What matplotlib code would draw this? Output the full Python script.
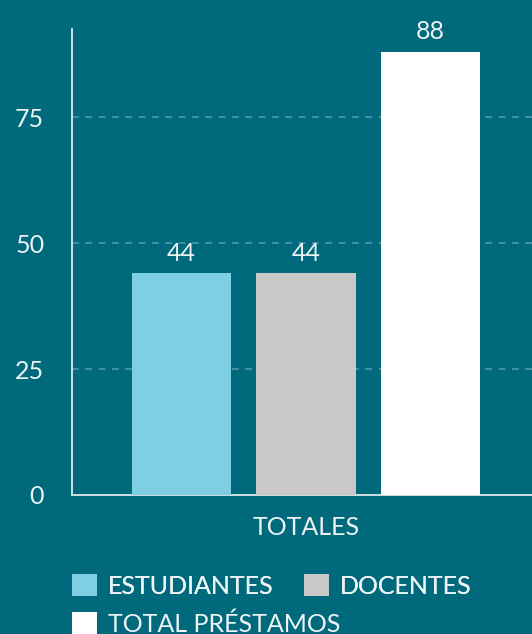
import numpy as np
import matplotlib
matplotlib.use("Agg")
import matplotlib.pyplot as plt

# data
categories = ["TOTALES"]
series = ["ESTUDIANTES", "DOCENTES", "TOTAL PRÉSTAMOS"]
values = [44, 44, 88]
colors = ["#7ecfe1", "#c8c8c8", "#ffffff"]
yticks = [0, 25, 50, 75]

bg = "#006a7c"
txt = "#eef4f5"

plt.rcParams["font.family"] = ["Lato", "DejaVu Sans"]

fig = plt.figure(figsize=(5.32, 6.34), dpi=100, facecolor=bg)
ax = fig.add_axes([72 / 532, 139 / 634, 468 / 532, 466 / 634], facecolor=bg)

x = np.arange(len(categories))
width = 0.213
step = 0.266
handles = []
for i, (name, v, col) in enumerate(zip(series, values, colors)):
    pos = x + (i - 1) * step
    bars = ax.bar(pos, [v], width, color=col, label=name, zorder=3)
    ax.bar_label(bars, padding=6, color=txt, fontsize=18)
    handles.append(bars)

ax.set_xlim(-0.5, 0.5)
ax.set_ylim(0, 92.5)
ax.set_yticks(yticks)
ax.set_xticks(x)
ax.set_xticklabels(categories)
ax.tick_params(axis="both", length=0, colors=txt, labelsize=18)
ax.tick_params(axis="y", pad=20)
ax.tick_params(axis="x", pad=15)

for t in yticks[1:]:
    ax.axhline(t, color="#4f9aa8", lw=1.2, ls=(0, (4, 4)), zorder=1)

for s in ["top", "right"]:
    ax.spines[s].set_visible(False)
for s in ["left", "bottom"]:
    ax.spines[s].set_color("#dfe9eb")
    ax.spines[s].set_linewidth(1.3)

# legend wraps like a flow layout: two items on the first row, one on the second
leg_kw = dict(loc="upper left", frameon=False, fontsize=18, handlelength=1.0,
              handleheight=1.0, handletextpad=0.45, columnspacing=1.2,
              borderaxespad=0, borderpad=0)
leg1 = fig.legend(handles[:2], series[:2], ncol=2,
                  bbox_to_anchor=(72 / 532, 1 - 574 / 634), **leg_kw)
leg2 = fig.legend(handles[2:], series[2:], ncol=1,
                  bbox_to_anchor=(72 / 532, 1 - 612 / 634), **leg_kw)
fig.add_artist(leg1)
for leg in (leg1, leg2):
    for t in leg.get_texts():
        t.set_color(txt)

fig.savefig("out.png", dpi=100, facecolor=bg)
